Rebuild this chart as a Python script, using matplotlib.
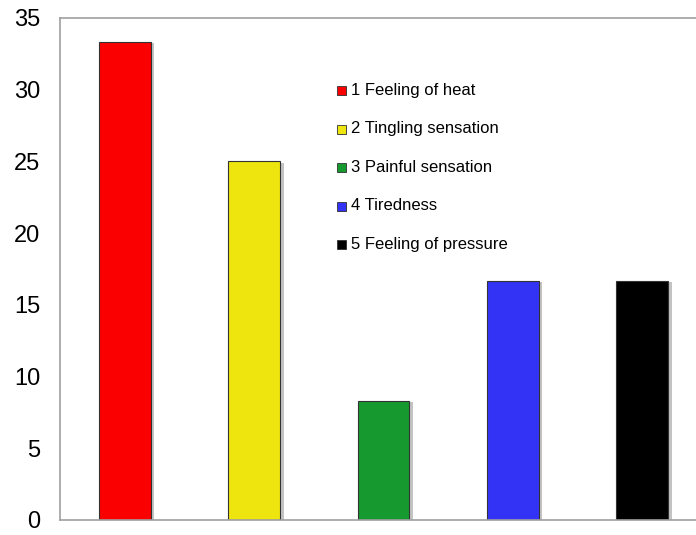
import matplotlib.pyplot as plt
import matplotlib.patheffects as pe
from matplotlib.patches import Rectangle

plt.rcParams['font.family'] = ['Liberation Sans', 'DejaVu Sans']

labels = ["1 Feeling of heat", "2 Tingling sensation", "3 Painful sensation",
          "4 Tiredness", "5 Feeling of pressure"]
values = [33.33, 25.0, 8.33, 16.67, 16.67]
colors = ["#FA0000", "#EEE50E", "#169A2F", "#3333F5", "#000000"]
yticks = [0, 5, 10, 15, 20, 25, 30, 35]

fig = plt.figure(figsize=(6.96, 5.35), dpi=100)
ax = fig.add_axes([60 / 696, 15 / 535, 636 / 696, 502 / 535])

shadow = [pe.SimplePatchShadow(offset=(2.5, -1), shadow_rgbFace="#888888", alpha=0.5),
          pe.Normal()]
x = list(range(len(values)))
bars = ax.bar(x, values, width=0.4, color=colors, edgecolor="#333333", linewidth=0.8)
for b in bars:
    b.set_path_effects(shadow)

ax.set_xlim(-0.503, 4.416)
ax.set_ylim(0, 35)
ax.set_yticks(yticks)
ax.set_xticks([])
ax.tick_params(axis="y", length=0, pad=14, labelsize=17)

for side in ["left", "top", "bottom"]:
    ax.spines[side].set_color("#A0A0A0")
    ax.spines[side].set_linewidth(1.2)
ax.spines["right"].set_visible(False)

# legend entries drawn by hand: small shadowed square plus label
row_y = [90, 129, 167, 206, 244]
for label, color, py in zip(labels, colors, row_y):
    yf = (520 - py) / 502
    sq = Rectangle(((337 - 60) / 636, yf - 4.5 / 502), 9 / 636, 9 / 502,
                   transform=ax.transAxes, facecolor=color, edgecolor="#333333",
                   linewidth=0.6, clip_on=False)
    sq.set_path_effects([pe.SimplePatchShadow(offset=(1, -1), shadow_rgbFace="#777777",
                                              alpha=0.5), pe.Normal()])
    ax.add_patch(sq)
    ax.text((351 - 60) / 636, yf, label, transform=ax.transAxes, fontsize=12,
            va="center", ha="left")

fig.savefig("out.png", dpi=100)
